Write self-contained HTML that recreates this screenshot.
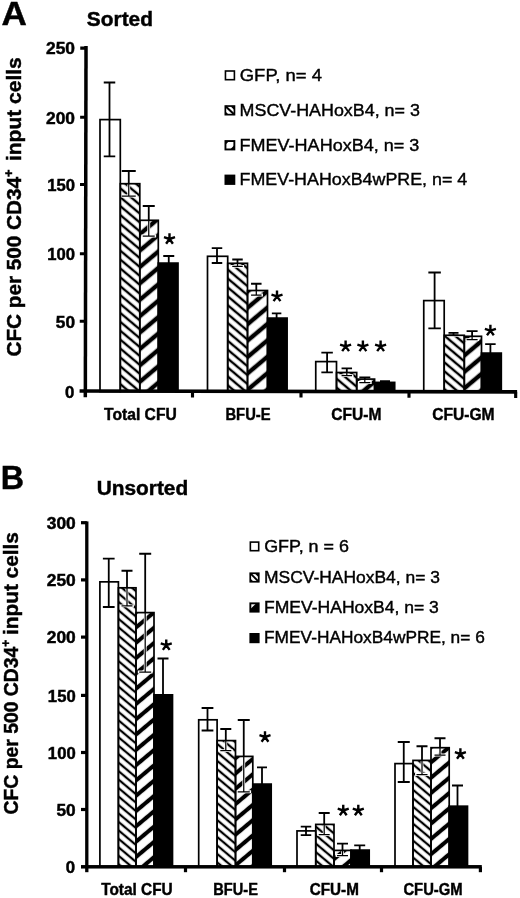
<!DOCTYPE html>
<html><head><meta charset="utf-8"><title>Figure</title>
<style>html,body{margin:0;padding:0;background:#fff}svg{display:block}text{fill:#000}</style></head>
<body>
<svg width="520" height="898" viewBox="0 0 520 898">
<rect width="520" height="898" fill="#fff"/>
<defs>
<pattern id="hmA" patternUnits="userSpaceOnUse" width="20" height="6.818" patternTransform="translate(120.50 304.20) rotate(40.00)"><rect width="20" height="6.818" fill="#fff"/><rect width="20" height="1.200" fill="#000"/><rect y="5.618" width="20" height="1.200" fill="#000"/></pattern><pattern id="hfA" patternUnits="userSpaceOnUse" width="20" height="12.563" patternTransform="translate(157.00 318.20) rotate(-40.00)"><rect width="20" height="12.563" fill="#fff"/><rect width="20" height="2.200" fill="#000"/><rect y="10.363" width="20" height="2.200" fill="#000"/></pattern>
<pattern id="hmB" patternUnits="userSpaceOnUse" width="20" height="6.481" patternTransform="translate(118.50 703.40) rotate(40.00)"><rect width="20" height="6.481" fill="#fff"/><rect width="20" height="1.125" fill="#000"/><rect y="5.356" width="20" height="1.125" fill="#000"/></pattern><pattern id="hfB" patternUnits="userSpaceOnUse" width="20" height="11.720" patternTransform="translate(152.90 705.10) rotate(-40.00)"><rect width="20" height="11.720" fill="#fff"/><rect width="20" height="2.050" fill="#000"/><rect y="9.670" width="20" height="2.050" fill="#000"/></pattern>
<g id="star"><path d="M0 0L0.00 -5.80M0 0L5.52 -1.79M0 0L3.41 4.69M0 0L-3.41 4.69M0 0L-5.52 -1.79" stroke="#000" stroke-width="2.4" stroke-linecap="butt" fill="none"/></g>
<filter id="gs" filterUnits="userSpaceOnUse" x="0" y="0" width="520" height="898"><feOffset dx="0" dy="0"/></filter>
</defs>
<g filter="url(#gs)">
<!-- Panel A -->
<rect x="100.00" y="119.60" width="20.30" height="272.00" fill="#fff"/>
<rect x="120.30" y="183.70" width="19.50" height="207.90" fill="url(#hmA)"/>
<rect x="139.80" y="220.30" width="18.50" height="171.30" fill="url(#hfA)"/>
<rect x="158.30" y="263.10" width="19.70" height="128.50" fill="#000"/>
<rect x="207.50" y="256.30" width="20.20" height="135.30" fill="#fff"/>
<rect x="227.70" y="263.30" width="19.80" height="128.30" fill="url(#hmA)"/>
<rect x="247.50" y="290.50" width="20.00" height="101.10" fill="url(#hfA)"/>
<rect x="267.50" y="318.10" width="19.60" height="73.50" fill="#000"/>
<rect x="315.75" y="361.60" width="20.75" height="30.00" fill="#fff"/>
<rect x="336.50" y="372.50" width="20.20" height="19.10" fill="url(#hmA)"/>
<rect x="356.70" y="379.10" width="17.90" height="12.50" fill="url(#hfA)"/>
<rect x="374.60" y="382.40" width="20.10" height="9.20" fill="#000"/>
<rect x="423.75" y="300.60" width="20.45" height="91.00" fill="#fff"/>
<rect x="444.20" y="335.30" width="20.10" height="56.30" fill="url(#hmA)"/>
<rect x="464.30" y="336.30" width="17.20" height="55.30" fill="url(#hfA)"/>
<rect x="481.50" y="353.10" width="19.80" height="38.50" fill="#000"/>
<clipPath id="cA1"><rect x="120.30" y="183.70" width="19.50" height="207.90"/></clipPath>
<clipPath id="uA1"><rect x="0" y="0" width="520" height="183.70"/></clipPath>
<path d="M121.75 171.00H135.75M128.75 171.00V196.00M121.75 196.00H135.75" stroke="#fff" stroke-width="2.80" stroke-linecap="square" fill="none" clip-path="url(#cA1)"/>
<clipPath id="cA2"><rect x="139.80" y="220.30" width="18.50" height="171.30"/></clipPath>
<clipPath id="uA2"><rect x="0" y="0" width="520" height="220.30"/></clipPath>
<path d="M142.75 206.00H154.75M148.75 206.00V236.00M142.75 236.00H154.75" stroke="#fff" stroke-width="2.80" stroke-linecap="square" fill="none" clip-path="url(#cA2)"/>
<clipPath id="cA5"><rect x="227.70" y="263.30" width="19.80" height="128.30"/></clipPath>
<clipPath id="uA5"><rect x="0" y="0" width="520" height="263.30"/></clipPath>
<path d="M232.25 259.50H242.75M237.50 259.50V266.30M232.25 266.30H242.75" stroke="#fff" stroke-width="2.80" stroke-linecap="square" fill="none" clip-path="url(#cA5)"/>
<clipPath id="cA6"><rect x="247.50" y="290.50" width="20.00" height="101.10"/></clipPath>
<clipPath id="uA6"><rect x="0" y="0" width="520" height="290.50"/></clipPath>
<path d="M251.05 283.75H261.55M256.30 283.75V295.00M251.05 295.00H261.55" stroke="#fff" stroke-width="2.80" stroke-linecap="square" fill="none" clip-path="url(#cA6)"/>
<clipPath id="cA9"><rect x="336.50" y="372.50" width="20.20" height="19.10"/></clipPath>
<clipPath id="uA9"><rect x="0" y="0" width="520" height="372.50"/></clipPath>
<path d="M341.55 368.30H352.05M346.80 368.30V375.60M341.55 375.60H352.05" stroke="#fff" stroke-width="2.80" stroke-linecap="square" fill="none" clip-path="url(#cA9)"/>
<clipPath id="cA10"><rect x="356.70" y="379.10" width="17.90" height="12.50"/></clipPath>
<clipPath id="uA10"><rect x="0" y="0" width="520" height="379.10"/></clipPath>
<path d="M359.30 377.30H370.30M364.80 377.30V382.50M359.30 382.50H370.30" stroke="#fff" stroke-width="2.80" stroke-linecap="square" fill="none" clip-path="url(#cA10)"/>
<clipPath id="cA13"><rect x="444.20" y="335.30" width="20.10" height="56.30"/></clipPath>
<clipPath id="uA13"><rect x="0" y="0" width="520" height="335.30"/></clipPath>
<path d="M448.50 332.90H458.50M453.50 332.90V335.30M448.50 335.30H458.50" stroke="#fff" stroke-width="2.80" stroke-linecap="square" fill="none" clip-path="url(#cA13)"/>
<clipPath id="cA14"><rect x="464.30" y="336.30" width="17.20" height="55.30"/></clipPath>
<clipPath id="uA14"><rect x="0" y="0" width="520" height="336.30"/></clipPath>
<path d="M466.60 331.10H477.60M472.10 331.10V339.60M466.60 339.60H477.60" stroke="#fff" stroke-width="2.80" stroke-linecap="square" fill="none" clip-path="url(#cA14)"/>
<rect x="100.00" y="119.60" width="20.30" height="272.00" fill="none" stroke="#000" stroke-width="1.70"/>
<rect x="120.30" y="183.70" width="19.50" height="207.90" fill="none" stroke="#000" stroke-width="1.70"/>
<rect x="139.80" y="220.30" width="18.50" height="171.30" fill="none" stroke="#000" stroke-width="1.70"/>
<rect x="158.30" y="263.10" width="19.70" height="128.50" fill="none" stroke="#000" stroke-width="1.70"/>
<rect x="207.50" y="256.30" width="20.20" height="135.30" fill="none" stroke="#000" stroke-width="1.70"/>
<rect x="227.70" y="263.30" width="19.80" height="128.30" fill="none" stroke="#000" stroke-width="1.70"/>
<rect x="247.50" y="290.50" width="20.00" height="101.10" fill="none" stroke="#000" stroke-width="1.70"/>
<rect x="267.50" y="318.10" width="19.60" height="73.50" fill="none" stroke="#000" stroke-width="1.70"/>
<rect x="315.75" y="361.60" width="20.75" height="30.00" fill="none" stroke="#000" stroke-width="1.70"/>
<rect x="336.50" y="372.50" width="20.20" height="19.10" fill="none" stroke="#000" stroke-width="1.70"/>
<rect x="356.70" y="379.10" width="17.90" height="12.50" fill="none" stroke="#000" stroke-width="1.70"/>
<rect x="374.60" y="382.40" width="20.10" height="9.20" fill="none" stroke="#000" stroke-width="1.70"/>
<rect x="423.75" y="300.60" width="20.45" height="91.00" fill="none" stroke="#000" stroke-width="1.70"/>
<rect x="444.20" y="335.30" width="20.10" height="56.30" fill="none" stroke="#000" stroke-width="1.70"/>
<rect x="464.30" y="336.30" width="17.20" height="55.30" fill="none" stroke="#000" stroke-width="1.70"/>
<rect x="481.50" y="353.10" width="19.80" height="38.50" fill="none" stroke="#000" stroke-width="1.70"/>
<path d="M103.75 82.50H115.25M109.50 82.50V156.40M103.75 156.40H115.25" stroke="#000" stroke-width="1.80" fill="none"/>
<path d="M121.75 171.00H135.75M128.75 171.00V196.00M121.75 196.00H135.75" stroke="#000" stroke-width="1.80" fill="none" clip-path="url(#uA1)"/>
<path d="M121.75 171.00H135.75M128.75 171.00V196.00M121.75 196.00H135.75" stroke="#000" stroke-width="1.25" fill="none" clip-path="url(#cA1)"/>
<path d="M142.75 206.00H154.75M148.75 206.00V236.00M142.75 236.00H154.75" stroke="#000" stroke-width="1.80" fill="none" clip-path="url(#uA2)"/>
<path d="M142.75 206.00H154.75M148.75 206.00V236.00M142.75 236.00H154.75" stroke="#000" stroke-width="1.25" fill="none" clip-path="url(#cA2)"/>
<path d="M163.25 256.00H174.25M168.75 256.00V264.10" stroke="#000" stroke-width="1.80" fill="none"/>
<path d="M211.75 248.20H222.25M217.00 248.20V263.00M211.75 263.00H222.25" stroke="#000" stroke-width="1.80" fill="none"/>
<path d="M232.25 259.50H242.75M237.50 259.50V266.30M232.25 266.30H242.75" stroke="#000" stroke-width="1.80" fill="none" clip-path="url(#uA5)"/>
<path d="M232.25 259.50H242.75M237.50 259.50V266.30M232.25 266.30H242.75" stroke="#000" stroke-width="1.25" fill="none" clip-path="url(#cA5)"/>
<path d="M251.05 283.75H261.55M256.30 283.75V295.00M251.05 295.00H261.55" stroke="#000" stroke-width="1.80" fill="none" clip-path="url(#uA6)"/>
<path d="M251.05 283.75H261.55M256.30 283.75V295.00M251.05 295.00H261.55" stroke="#000" stroke-width="1.25" fill="none" clip-path="url(#cA6)"/>
<path d="M271.85 313.30H281.35M276.60 313.30V319.10" stroke="#000" stroke-width="1.80" fill="none"/>
<path d="M321.35 352.70H332.85M327.10 352.70V372.30M321.35 372.30H332.85" stroke="#000" stroke-width="1.80" fill="none"/>
<path d="M341.55 368.30H352.05M346.80 368.30V375.60M341.55 375.60H352.05" stroke="#000" stroke-width="1.80" fill="none" clip-path="url(#uA9)"/>
<path d="M341.55 368.30H352.05M346.80 368.30V375.60M341.55 375.60H352.05" stroke="#000" stroke-width="1.25" fill="none" clip-path="url(#cA9)"/>
<path d="M359.30 377.30H370.30M364.80 377.30V382.50M359.30 382.50H370.30" stroke="#000" stroke-width="1.80" fill="none" clip-path="url(#uA10)"/>
<path d="M359.30 377.30H370.30M364.80 377.30V382.50M359.30 382.50H370.30" stroke="#000" stroke-width="1.25" fill="none" clip-path="url(#cA10)"/>
<path d="M380.00 381.10H390.00M385.00 381.10V383.40" stroke="#000" stroke-width="1.80" fill="none"/>
<path d="M428.35 272.50H440.85M434.60 272.50V328.30M428.35 328.30H440.85" stroke="#000" stroke-width="1.80" fill="none"/>
<path d="M448.50 332.90H458.50M453.50 332.90V335.30M448.50 335.30H458.50" stroke="#000" stroke-width="1.80" fill="none" clip-path="url(#uA13)"/>
<path d="M448.50 332.90H458.50M453.50 332.90V335.30M448.50 335.30H458.50" stroke="#000" stroke-width="1.25" fill="none" clip-path="url(#cA13)"/>
<path d="M466.60 331.10H477.60M472.10 331.10V339.60M466.60 339.60H477.60" stroke="#000" stroke-width="1.80" fill="none" clip-path="url(#uA14)"/>
<path d="M466.60 331.10H477.60M472.10 331.10V339.60M466.60 339.60H477.60" stroke="#000" stroke-width="1.25" fill="none" clip-path="url(#cA14)"/>
<path d="M485.15 344.20H495.65M490.40 344.20V354.10" stroke="#000" stroke-width="1.80" fill="none"/>
<g transform="rotate(0.110 300.0 391.4)">
<rect x="83.60" y="46.40" width="3.50" height="351.20" fill="#000"/>
<rect x="79.60" y="389.55" width="437.50" height="3.70" fill="#000"/>
<rect x="79.60" y="46.97" width="5.75" height="3.10" fill="#000"/>
<rect x="79.60" y="116.17" width="5.75" height="3.10" fill="#000"/>
<rect x="79.60" y="183.37" width="5.75" height="3.10" fill="#000"/>
<rect x="79.60" y="252.67" width="5.75" height="3.10" fill="#000"/>
<rect x="79.60" y="320.17" width="5.75" height="3.10" fill="#000"/>
<rect x="190.95" y="391.40" width="3.10" height="6.20" fill="#000"/>
<rect x="299.45" y="391.40" width="3.10" height="6.20" fill="#000"/>
<rect x="407.45" y="391.40" width="3.10" height="6.20" fill="#000"/>
<rect x="514.15" y="391.40" width="3.10" height="6.20" fill="#000"/>
</g>
<text transform="translate(46.02 54.35) scale(1.0877 1)" font-family="Liberation Sans, sans-serif" font-weight="bold" font-size="16.00" stroke="#000" stroke-width="0.45">250</text>
<text transform="translate(46.02 123.55) scale(1.0877 1)" font-family="Liberation Sans, sans-serif" font-weight="bold" font-size="16.00" stroke="#000" stroke-width="0.45">200</text>
<text transform="translate(47.17 190.75) scale(1.0433 1)" font-family="Liberation Sans, sans-serif" font-weight="bold" font-size="16.00" stroke="#000" stroke-width="0.45">150</text>
<text transform="translate(47.17 260.05) scale(1.0433 1)" font-family="Liberation Sans, sans-serif" font-weight="bold" font-size="16.00" stroke="#000" stroke-width="0.45">100</text>
<text transform="translate(55.82 327.55) scale(1.0794 1)" font-family="Liberation Sans, sans-serif" font-weight="bold" font-size="16.00" stroke="#000" stroke-width="0.45">50</text>
<text transform="translate(64.94 397.65) scale(1.0508 1)" font-family="Liberation Sans, sans-serif" font-weight="bold" font-size="16.00" stroke="#000" stroke-width="0.45">0</text>
<text transform="translate(104.04 419.75) scale(0.9657 1)" font-family="Liberation Sans, sans-serif" font-weight="bold" font-size="16.21" stroke="#000" stroke-width="0.45">Total CFU</text>
<text transform="translate(225.44 419.85) scale(0.8912 1)" font-family="Liberation Sans, sans-serif" font-weight="bold" font-size="16.59" stroke="#000" stroke-width="0.45">BFU-E</text>
<text transform="translate(331.18 419.95) scale(0.9216 1)" font-family="Liberation Sans, sans-serif" font-weight="bold" font-size="16.93" stroke="#000" stroke-width="0.45">CFU-M</text>
<text transform="translate(432.17 420.25) scale(0.9233 1)" font-family="Liberation Sans, sans-serif" font-weight="bold" font-size="16.93" stroke="#000" stroke-width="0.45">CFU-GM</text>
<use href="#star" x="169.50" y="239.00"/>
<use href="#star" x="277.00" y="296.40"/>
<use href="#star" x="345.60" y="346.40"/>
<use href="#star" x="362.90" y="346.40"/>
<use href="#star" x="380.60" y="346.40"/>
<use href="#star" x="490.40" y="330.60"/>
<text transform="translate(86.87 26.15) scale(1.0263 1)" font-family="Liberation Sans, sans-serif" font-weight="bold" font-size="20.34" stroke="#000" stroke-width="0.45">Sorted</text>
<text transform="translate(1.62 25.15) scale(1.0277 1)" font-family="Liberation Sans, sans-serif" font-weight="bold" font-size="34.13" stroke="#000" stroke-width="0.45">A</text>
<text transform="translate(20.60 356.50) rotate(-90) scale(0.9860 1)" font-family="Liberation Sans, sans-serif" font-weight="bold" font-size="21.00" stroke="#000" stroke-width="0.45">CFC per 500 CD34<tspan font-size="13.02" dy="-7.56">+</tspan></text>
<text transform="translate(20.60 57.20) rotate(-90) scale(1.0000 1)" text-anchor="end" font-family="Liberation Sans, sans-serif" font-weight="bold" font-size="21.00" stroke="#000" stroke-width="0.45">input cells</text>
<rect x="225.45" y="71.00" width="8.95" height="8.70" fill="#fff" stroke="#000" stroke-width="1.60"/>
<text transform="translate(239.78 80.85) scale(1.0805 1)" font-family="Liberation Sans, sans-serif"  font-size="17.07" stroke="#000" stroke-width="0.4">GFP, n= 4</text>
<rect x="225.35" y="106.05" width="9.10" height="8.60" fill="#fff" stroke="#000" stroke-width="1.70"/>
<path d="M225.50 106.20L234.30 114.50" stroke="#000" stroke-width="2.0"/>
<path d="M230.50 106.20L234.30 106.20L234.30 110.00Z" fill="#000"/>
<path d="M225.50 111.50L225.50 114.50L228.50 114.50Z" fill="#000"/>
<text transform="translate(239.57 115.85) scale(1.0480 1)" font-family="Liberation Sans, sans-serif"  font-size="17.07" stroke="#000" stroke-width="0.4">MSCV-HAHoxB4, n= 3</text>
<rect x="225.45" y="141.05" width="8.90" height="8.40" fill="#fff" stroke="#000" stroke-width="1.90"/>
<path d="M225.50 141.10L229.10 141.10L225.50 144.70Z" fill="#000"/>
<path d="M234.30 145.20L234.30 149.40L230.10 149.40Z" fill="#000"/>
<text transform="translate(239.56 150.75) scale(1.0556 1)" font-family="Liberation Sans, sans-serif"  font-size="17.07" stroke="#000" stroke-width="0.4">FMEV-HAHoxB4, n= 3</text>
<rect x="224.50" y="174.60" width="10.80" height="10.30" fill="#000"/>
<text transform="translate(239.57 185.25) scale(1.0320 1)" font-family="Liberation Sans, sans-serif"  font-size="17.32" stroke="#000" stroke-width="0.4">FMEV-HAHoxB4wPRE, n= 4</text>
<!-- Panel B -->
<rect x="99.90" y="581.85" width="18.50" height="284.95" fill="#fff"/>
<rect x="118.40" y="587.80" width="17.60" height="279.00" fill="url(#hmB)"/>
<rect x="136.00" y="612.60" width="18.00" height="254.20" fill="url(#hfB)"/>
<rect x="154.00" y="694.85" width="18.50" height="171.95" fill="#000"/>
<rect x="198.70" y="719.80" width="18.40" height="147.00" fill="#fff"/>
<rect x="217.10" y="740.60" width="18.40" height="126.20" fill="url(#hmB)"/>
<rect x="235.50" y="756.40" width="17.30" height="110.40" fill="url(#hfB)"/>
<rect x="252.80" y="784.10" width="18.40" height="82.70" fill="#000"/>
<rect x="297.00" y="830.90" width="18.75" height="35.90" fill="#fff"/>
<rect x="315.75" y="824.40" width="18.25" height="42.40" fill="url(#hmB)"/>
<rect x="334.00" y="850.40" width="17.00" height="16.40" fill="url(#hfB)"/>
<rect x="351.00" y="850.10" width="18.20" height="16.70" fill="#000"/>
<rect x="395.00" y="763.60" width="18.00" height="103.20" fill="#fff"/>
<rect x="413.00" y="760.40" width="18.00" height="106.40" fill="url(#hmB)"/>
<rect x="431.00" y="747.70" width="18.20" height="119.10" fill="url(#hfB)"/>
<rect x="449.20" y="806.20" width="18.30" height="60.60" fill="#000"/>
<clipPath id="cB1"><rect x="118.40" y="587.80" width="17.60" height="279.00"/></clipPath>
<clipPath id="uB1"><rect x="0" y="0" width="520" height="587.80"/></clipPath>
<path d="M121.50 570.75H132.50M127.00 570.75V605.80M121.50 605.80H132.50" stroke="#fff" stroke-width="2.80" stroke-linecap="square" fill="none" clip-path="url(#cB1)"/>
<clipPath id="cB2"><rect x="136.00" y="612.60" width="18.00" height="254.20"/></clipPath>
<clipPath id="uB2"><rect x="0" y="0" width="520" height="612.60"/></clipPath>
<path d="M139.20 553.75H151.20M145.20 553.75V672.00M139.20 672.00H151.20" stroke="#fff" stroke-width="2.80" stroke-linecap="square" fill="none" clip-path="url(#cB2)"/>
<clipPath id="cB5"><rect x="217.10" y="740.60" width="18.40" height="126.20"/></clipPath>
<clipPath id="uB5"><rect x="0" y="0" width="520" height="740.60"/></clipPath>
<path d="M220.30 729.00H231.30M225.80 729.00V750.60M220.30 750.60H231.30" stroke="#fff" stroke-width="2.80" stroke-linecap="square" fill="none" clip-path="url(#cB5)"/>
<clipPath id="cB6"><rect x="235.50" y="756.40" width="17.30" height="110.40"/></clipPath>
<clipPath id="uB6"><rect x="0" y="0" width="520" height="756.40"/></clipPath>
<path d="M237.75 720.00H249.75M243.75 720.00V791.75M237.75 791.75H249.75" stroke="#fff" stroke-width="2.80" stroke-linecap="square" fill="none" clip-path="url(#cB6)"/>
<clipPath id="cB9"><rect x="315.75" y="824.40" width="18.25" height="42.40"/></clipPath>
<clipPath id="uB9"><rect x="0" y="0" width="520" height="824.40"/></clipPath>
<path d="M318.70 813.00H329.70M324.20 813.00V834.50M318.70 834.50H329.70" stroke="#fff" stroke-width="2.80" stroke-linecap="square" fill="none" clip-path="url(#cB9)"/>
<clipPath id="cB10"><rect x="334.00" y="850.40" width="17.00" height="16.40"/></clipPath>
<clipPath id="uB10"><rect x="0" y="0" width="520" height="850.40"/></clipPath>
<path d="M337.00 843.60H348.00M342.50 843.60V855.50M337.00 855.50H348.00" stroke="#fff" stroke-width="2.80" stroke-linecap="square" fill="none" clip-path="url(#cB10)"/>
<clipPath id="cB13"><rect x="413.00" y="760.40" width="18.00" height="106.40"/></clipPath>
<clipPath id="uB13"><rect x="0" y="0" width="520" height="760.40"/></clipPath>
<path d="M416.50 746.25H427.50M422.00 746.25V774.50M416.50 774.50H427.50" stroke="#fff" stroke-width="2.80" stroke-linecap="square" fill="none" clip-path="url(#cB13)"/>
<clipPath id="cB14"><rect x="431.00" y="747.70" width="18.20" height="119.10"/></clipPath>
<clipPath id="uB14"><rect x="0" y="0" width="520" height="747.70"/></clipPath>
<path d="M434.50 738.25H445.50M440.00 738.25V755.00M434.50 755.00H445.50" stroke="#fff" stroke-width="2.80" stroke-linecap="square" fill="none" clip-path="url(#cB14)"/>
<rect x="99.90" y="581.85" width="18.50" height="284.95" fill="none" stroke="#000" stroke-width="1.70"/>
<rect x="118.40" y="587.80" width="17.60" height="279.00" fill="none" stroke="#000" stroke-width="1.70"/>
<rect x="136.00" y="612.60" width="18.00" height="254.20" fill="none" stroke="#000" stroke-width="1.70"/>
<rect x="154.00" y="694.85" width="18.50" height="171.95" fill="none" stroke="#000" stroke-width="1.70"/>
<rect x="198.70" y="719.80" width="18.40" height="147.00" fill="none" stroke="#000" stroke-width="1.70"/>
<rect x="217.10" y="740.60" width="18.40" height="126.20" fill="none" stroke="#000" stroke-width="1.70"/>
<rect x="235.50" y="756.40" width="17.30" height="110.40" fill="none" stroke="#000" stroke-width="1.70"/>
<rect x="252.80" y="784.10" width="18.40" height="82.70" fill="none" stroke="#000" stroke-width="1.70"/>
<rect x="297.00" y="830.90" width="18.75" height="35.90" fill="none" stroke="#000" stroke-width="1.70"/>
<rect x="315.75" y="824.40" width="18.25" height="42.40" fill="none" stroke="#000" stroke-width="1.70"/>
<rect x="334.00" y="850.40" width="17.00" height="16.40" fill="none" stroke="#000" stroke-width="1.70"/>
<rect x="351.00" y="850.10" width="18.20" height="16.70" fill="none" stroke="#000" stroke-width="1.70"/>
<rect x="395.00" y="763.60" width="18.00" height="103.20" fill="none" stroke="#000" stroke-width="1.70"/>
<rect x="413.00" y="760.40" width="18.00" height="106.40" fill="none" stroke="#000" stroke-width="1.70"/>
<rect x="431.00" y="747.70" width="18.20" height="119.10" fill="none" stroke="#000" stroke-width="1.70"/>
<rect x="449.20" y="806.20" width="18.30" height="60.60" fill="none" stroke="#000" stroke-width="1.70"/>
<path d="M102.88 558.60H114.62M108.75 558.60V607.00M102.88 607.00H114.62" stroke="#000" stroke-width="1.80" fill="none"/>
<path d="M121.50 570.75H132.50M127.00 570.75V605.80M121.50 605.80H132.50" stroke="#000" stroke-width="1.80" fill="none" clip-path="url(#uB1)"/>
<path d="M121.50 570.75H132.50M127.00 570.75V605.80M121.50 605.80H132.50" stroke="#000" stroke-width="1.25" fill="none" clip-path="url(#cB1)"/>
<path d="M139.20 553.75H151.20M145.20 553.75V672.00M139.20 672.00H151.20" stroke="#000" stroke-width="1.80" fill="none" clip-path="url(#uB2)"/>
<path d="M139.20 553.75H151.20M145.20 553.75V672.00M139.20 672.00H151.20" stroke="#000" stroke-width="1.25" fill="none" clip-path="url(#cB2)"/>
<path d="M157.50 658.50H168.50M163.00 658.50V695.85" stroke="#000" stroke-width="1.80" fill="none"/>
<path d="M201.62 708.00H213.38M207.50 708.00V730.50M201.62 730.50H213.38" stroke="#000" stroke-width="1.80" fill="none"/>
<path d="M220.30 729.00H231.30M225.80 729.00V750.60M220.30 750.60H231.30" stroke="#000" stroke-width="1.80" fill="none" clip-path="url(#uB5)"/>
<path d="M220.30 729.00H231.30M225.80 729.00V750.60M220.30 750.60H231.30" stroke="#000" stroke-width="1.25" fill="none" clip-path="url(#cB5)"/>
<path d="M237.75 720.00H249.75M243.75 720.00V791.75M237.75 791.75H249.75" stroke="#000" stroke-width="1.80" fill="none" clip-path="url(#uB6)"/>
<path d="M237.75 720.00H249.75M243.75 720.00V791.75M237.75 791.75H249.75" stroke="#000" stroke-width="1.25" fill="none" clip-path="url(#cB6)"/>
<path d="M257.00 767.30H267.00M262.00 767.30V785.10" stroke="#000" stroke-width="1.80" fill="none"/>
<path d="M300.75 826.70H311.25M306.00 826.70V835.10M300.75 835.10H311.25" stroke="#000" stroke-width="1.80" fill="none"/>
<path d="M318.70 813.00H329.70M324.20 813.00V834.50M318.70 834.50H329.70" stroke="#000" stroke-width="1.80" fill="none" clip-path="url(#uB9)"/>
<path d="M318.70 813.00H329.70M324.20 813.00V834.50M318.70 834.50H329.70" stroke="#000" stroke-width="1.25" fill="none" clip-path="url(#cB9)"/>
<path d="M337.00 843.60H348.00M342.50 843.60V855.50M337.00 855.50H348.00" stroke="#000" stroke-width="1.80" fill="none" clip-path="url(#uB10)"/>
<path d="M337.00 843.60H348.00M342.50 843.60V855.50M337.00 855.50H348.00" stroke="#000" stroke-width="1.25" fill="none" clip-path="url(#cB10)"/>
<path d="M354.20 845.30H365.20M359.70 845.30V851.10" stroke="#000" stroke-width="1.80" fill="none"/>
<path d="M397.75 742.00H409.75M403.75 742.00V782.00M397.75 782.00H409.75" stroke="#000" stroke-width="1.80" fill="none"/>
<path d="M416.50 746.25H427.50M422.00 746.25V774.50M416.50 774.50H427.50" stroke="#000" stroke-width="1.80" fill="none" clip-path="url(#uB13)"/>
<path d="M416.50 746.25H427.50M422.00 746.25V774.50M416.50 774.50H427.50" stroke="#000" stroke-width="1.25" fill="none" clip-path="url(#cB13)"/>
<path d="M434.50 738.25H445.50M440.00 738.25V755.00M434.50 755.00H445.50" stroke="#000" stroke-width="1.80" fill="none" clip-path="url(#uB14)"/>
<path d="M434.50 738.25H445.50M440.00 738.25V755.00M434.50 755.00H445.50" stroke="#000" stroke-width="1.25" fill="none" clip-path="url(#cB14)"/>
<path d="M452.00 785.50H463.00M457.50 785.50V807.20" stroke="#000" stroke-width="1.80" fill="none"/>
<rect x="85.15" y="521.40" width="3.30" height="350.80" fill="#000"/>
<rect x="81.00" y="865.05" width="400.80" height="3.50" fill="#000"/>
<rect x="81.00" y="521.10" width="5.80" height="3.20" fill="#000"/>
<rect x="81.00" y="578.30" width="5.80" height="3.20" fill="#000"/>
<rect x="81.00" y="635.50" width="5.80" height="3.20" fill="#000"/>
<rect x="81.00" y="693.80" width="5.80" height="3.20" fill="#000"/>
<rect x="81.00" y="750.90" width="5.80" height="3.20" fill="#000"/>
<rect x="81.00" y="807.90" width="5.80" height="3.20" fill="#000"/>
<rect x="183.90" y="866.80" width="3.20" height="5.40" fill="#000"/>
<rect x="282.90" y="866.80" width="3.20" height="5.40" fill="#000"/>
<rect x="379.90" y="866.80" width="3.20" height="5.40" fill="#000"/>
<rect x="478.80" y="866.80" width="3.20" height="5.40" fill="#000"/>
<text transform="translate(46.72 528.95) scale(1.0878 1)" font-family="Liberation Sans, sans-serif" font-weight="bold" font-size="16.00" stroke="#000" stroke-width="0.45">300</text>
<text transform="translate(46.72 586.15) scale(1.0877 1)" font-family="Liberation Sans, sans-serif" font-weight="bold" font-size="16.00" stroke="#000" stroke-width="0.45">250</text>
<text transform="translate(46.72 643.35) scale(1.0877 1)" font-family="Liberation Sans, sans-serif" font-weight="bold" font-size="16.00" stroke="#000" stroke-width="0.45">200</text>
<text transform="translate(47.87 701.65) scale(1.0433 1)" font-family="Liberation Sans, sans-serif" font-weight="bold" font-size="16.00" stroke="#000" stroke-width="0.45">150</text>
<text transform="translate(47.87 758.75) scale(1.0433 1)" font-family="Liberation Sans, sans-serif" font-weight="bold" font-size="16.00" stroke="#000" stroke-width="0.45">100</text>
<text transform="translate(56.52 815.75) scale(1.0794 1)" font-family="Liberation Sans, sans-serif" font-weight="bold" font-size="16.00" stroke="#000" stroke-width="0.45">50</text>
<text transform="translate(65.64 873.05) scale(1.0508 1)" font-family="Liberation Sans, sans-serif" font-weight="bold" font-size="16.00" stroke="#000" stroke-width="0.45">0</text>
<text transform="translate(101.15 894.75) scale(0.9428 1)" font-family="Liberation Sans, sans-serif" font-weight="bold" font-size="16.34" stroke="#000" stroke-width="0.45">Total CFU</text>
<text transform="translate(213.25 894.75) scale(0.8810 1)" font-family="Liberation Sans, sans-serif" font-weight="bold" font-size="16.59" stroke="#000" stroke-width="0.45">BFU-E</text>
<text transform="translate(309.79 894.95) scale(0.9084 1)" font-family="Liberation Sans, sans-serif" font-weight="bold" font-size="16.79" stroke="#000" stroke-width="0.45">CFU-M</text>
<text transform="translate(403.41 895.05) scale(0.8821 1)" font-family="Liberation Sans, sans-serif" font-weight="bold" font-size="16.79" stroke="#000" stroke-width="0.45">CFU-GM</text>
<use href="#star" x="166.25" y="645.20"/>
<use href="#star" x="265.00" y="737.00"/>
<use href="#star" x="343.25" y="810.50"/>
<use href="#star" x="358.30" y="810.50"/>
<use href="#star" x="460.40" y="754.00"/>
<text transform="translate(96.65 494.95) scale(0.9986 1)" font-family="Liberation Sans, sans-serif" font-weight="bold" font-size="20.90" stroke="#000" stroke-width="0.45">Unsorted</text>
<text transform="translate(0.80 488.55) scale(0.9626 1)" font-family="Liberation Sans, sans-serif" font-weight="bold" font-size="33.55" stroke="#000" stroke-width="0.45">B</text>
<text transform="translate(17.60 814.50) rotate(-90) scale(0.9220 1)" font-family="Liberation Sans, sans-serif" font-weight="bold" font-size="21.00" stroke="#000" stroke-width="0.45">CFC per 500 CD34<tspan font-size="13.02" dy="-7.56">+</tspan></text>
<text transform="translate(17.60 532.20) rotate(-90) scale(0.9900 1)" text-anchor="end" font-family="Liberation Sans, sans-serif" font-weight="bold" font-size="21.00" stroke="#000" stroke-width="0.45">input cells</text>
<rect x="250.35" y="542.10" width="8.35" height="8.60" fill="#fff" stroke="#000" stroke-width="1.60"/>
<text transform="translate(264.20 551.75) scale(1.1045 1)" font-family="Liberation Sans, sans-serif"  font-size="16.21" stroke="#000" stroke-width="0.4">GFP, n = 6</text>
<rect x="250.25" y="573.25" width="8.50" height="8.50" fill="#fff" stroke="#000" stroke-width="1.70"/>
<path d="M250.40 573.40L258.60 581.60" stroke="#000" stroke-width="2.0"/>
<path d="M254.80 573.40L258.60 573.40L258.60 577.20Z" fill="#000"/>
<path d="M250.40 578.60L250.40 581.60L253.40 581.60Z" fill="#000"/>
<text transform="translate(264.00 582.85) scale(1.0762 1)" font-family="Liberation Sans, sans-serif"  font-size="16.21" stroke="#000" stroke-width="0.4">MSCV-HAHoxB4, n= 3</text>
<rect x="250.35" y="603.35" width="8.30" height="8.30" fill="#fff" stroke="#000" stroke-width="1.90"/>
<path d="M258.60 603.40L258.60 611.60L250.40 611.60L250.40 609.00L256.00 603.40Z" fill="#000"/>
<text transform="translate(264.00 612.85) scale(1.0820 1)" font-family="Liberation Sans, sans-serif"  font-size="16.21" stroke="#000" stroke-width="0.4">FMEV-HAHoxB4, n= 3</text>
<rect x="249.40" y="633.00" width="10.20" height="10.20" fill="#000"/>
<text transform="translate(264.01 643.45) scale(1.0684 1)" font-family="Liberation Sans, sans-serif"  font-size="16.21" stroke="#000" stroke-width="0.4">FMEV-HAHoxB4wPRE, n= 6</text>
</g>
</svg>
</body></html>
